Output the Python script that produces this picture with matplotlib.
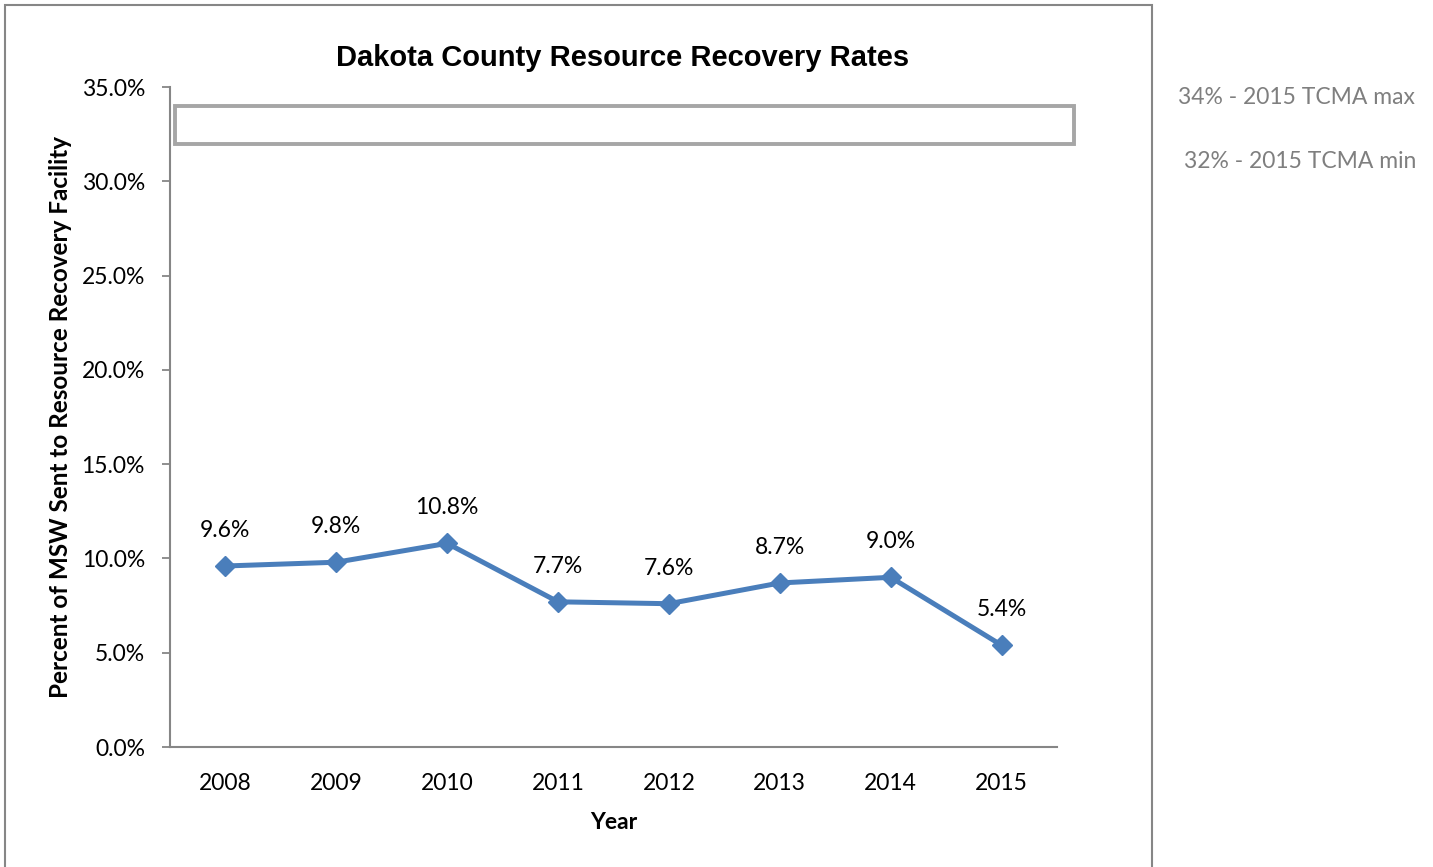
import matplotlib
matplotlib.use('Agg')
import matplotlib.pyplot as plt
from matplotlib.patches import Rectangle
from matplotlib.ticker import FuncFormatter

years = ['2008', '2009', '2010', '2011', '2012', '2013', '2014', '2015']
rates = [9.6, 9.8, 10.8, 7.7, 7.6, 8.7, 9.0, 5.4]
tcma_max = 34.0
tcma_min = 32.0
yticks = [0, 5, 10, 15, 20, 25, 30, 35]

LINE = '#4a7ebb'
GRAY = '#868686'
BODY = 'Lato'
FS = 16.5

fig = plt.figure(figsize=(14.33, 8.67), dpi=100)
ax = fig.add_axes([0.1186, 0.1384, 0.619, 0.7612])

x = list(range(len(years)))
ax.plot(x, rates, color=LINE, lw=3.6, marker='D', ms=10, mec=LINE, mfc=LINE, zorder=3)
for xi, v in zip(x, rates):
    ax.annotate(f'{v:.1f}%', (xi, v), xytext=(0, 18), textcoords='offset points',
                ha='center', va='bottom', fontsize=FS, family=BODY)

# target band box
ax.add_patch(Rectangle((-0.45, tcma_min), 8.1, tcma_max - tcma_min, fill=False,
                       ec='#a6a6a6', lw=2.8, clip_on=False, zorder=2))

ax.set_xlim(-0.5, 7.5)
ax.set_ylim(0, 35)
ax.set_xticks(x)
ax.set_xticklabels(years, family=BODY, fontsize=FS)
ax.set_yticks(yticks)
ax.yaxis.set_major_formatter(FuncFormatter(lambda v, p: f'{v:.1f}%'))
for lbl in ax.get_yticklabels():
    lbl.set_family(BODY)
    lbl.set_fontsize(FS)
ax.tick_params(axis='x', length=0, pad=19)
ax.tick_params(axis='y', length=6, width=1.3, color=GRAY, pad=12)

for s in ['top', 'right']:
    ax.spines[s].set_visible(False)
for s in ['left', 'bottom']:
    ax.spines[s].set_color(GRAY)
    ax.spines[s].set_linewidth(1.5)

ax.set_xlabel('Year', family=BODY, fontweight='bold', fontsize=FS, labelpad=13)
ax.set_ylabel('Percent of MSW Sent to Resource Recovery Facility', family=BODY,
              fontweight='bold', fontsize=17.5, labelpad=7)

fig.text(623 / 1433, 1 - 58 / 867, 'Dakota County Resource Recovery Rates',
         ha='center', va='center', family='Liberation Sans', fontweight='bold', fontsize=21)

fig.text(1415 / 1433, 1 - 98 / 867, f'{tcma_max:.0f}% - 2015 TCMA max', ha='right',
         va='center', family=BODY, fontsize=FS, color='#7f7f7f')
fig.text(1416 / 1433, 1 - 162 / 867, f'{tcma_min:.0f}% - 2015 TCMA min', ha='right',
         va='center', family=BODY, fontsize=FS, color='#7f7f7f')

# chart area border
fig.add_artist(Rectangle((5 / 1433, -0.01), 1147 / 1433, 1 - 5 / 867 + 0.01,
                         transform=fig.transFigure, fill=False, ec=GRAY, lw=1.5))

fig.savefig('out.png', dpi=100)
